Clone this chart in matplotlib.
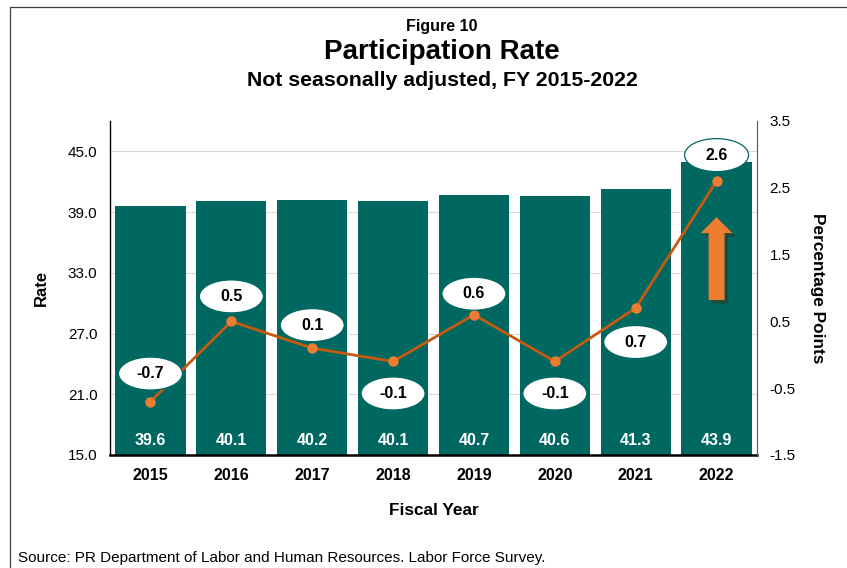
import matplotlib
matplotlib.use("Agg")
import matplotlib.pyplot as plt
import matplotlib.patheffects as pe
import matplotlib.transforms as mtransforms
from matplotlib.patches import Rectangle, Ellipse

plt.rcParams['font.family'] = ['Liberation Sans', 'DejaVu Sans']

years = ['2015', '2016', '2017', '2018', '2019', '2020', '2021', '2022']
rate = [39.6, 40.1, 40.2, 40.1, 40.7, 40.6, 41.3, 43.9]
change = [-0.7, 0.5, 0.1, -0.1, 0.6, -0.1, 0.7, 2.6]
change_labels = ['-0.7', '0.5', '0.1', '-0.1', '0.6', '-0.1', '0.7', '2.6']
rate_ticks = [15.0, 21.0, 27.0, 33.0, 39.0, 45.0]
pp_ticks = [-1.5, -0.5, 0.5, 1.5, 2.5, 3.5]

teal = '#006861'
orange_line = '#C55A11'
orange = '#ED7D31'

fig = plt.figure(figsize=(8.47, 5.68), dpi=100)
# outer frame of the original figure
fig.patches.append(Rectangle((10 / 847, -0.05), 1.0, 1 - 7 / 568 + 0.05,
                             transform=fig.transFigure, fill=False,
                             edgecolor='#404040', lw=0.9))

ax = fig.add_axes([110 / 847, 1 - 455 / 568, 647 / 847, 334 / 568])
x = list(range(len(years)))
ax.bar(x, rate, width=0.87, color=teal, zorder=2)
for i, v in enumerate(rate):
    ax.text(i, 16.4, f'{v:.1f}', color='white', fontweight='bold',
            fontsize=11.5, ha='center', va='center', zorder=3)

ax.set_xlim(-0.5, 7.5)
ax.set_ylim(15, 48)
ax.set_yticks(rate_ticks)
ax.set_yticklabels([f'{t:.1f}' for t in rate_ticks], fontsize=11)
ax.set_xticks(x)
ax.set_xticklabels(years, fontsize=11.5, fontweight='bold')
ax.tick_params(length=0, pad=9)
ax.tick_params(axis='y', pad=9)
ax.grid(axis='y', color='#d9d9d9', lw=0.8, zorder=0)
ax.spines['top'].set_visible(False)
ax.spines['right'].set_visible(False)
ax.spines['left'].set_linewidth(1.0)
ax.spines['bottom'].set_linewidth(1.8)
ax.set_xlabel('Fiscal Year', fontsize=12.4, fontweight='bold', labelpad=15)
ax.set_ylabel('Rate', fontsize=12, fontweight='bold', labelpad=14)

ax2 = ax.twinx()
ax2.set_ylim(-1.5, 3.5)
ax2.set_yticks(pp_ticks)
ax2.set_yticklabels([f'{t:.1f}' for t in pp_ticks], fontsize=11)
ax2.tick_params(length=0, pad=9)
for s in ['top', 'left', 'bottom']:
    ax2.spines[s].set_visible(False)
ax2.spines['right'].set_color('#595959')
ax2.set_ylabel('Percentage Points', fontsize=12.4, fontweight='bold',
               rotation=270, labelpad=21)

ax2.plot(x, change, color=orange_line, lw=2.0, zorder=4)
ax2.plot(x, change, 'o', color=orange, ms=6.5, zorder=5)

# ellipse labels, offset in pixels from each point (+ above, - below)
offsets = [28, 25, 23, -32, 21, -32, -34, 26]
for i, (v, lab) in enumerate(zip(change, change_labels)):
    trans = fig.dpi_scale_trans + mtransforms.ScaledTranslation(i, v, ax2.transData)
    dy = offsets[i] / 100
    ax2.add_patch(Ellipse((0, dy), 0.64, 0.33, transform=trans, fc='white',
                          ec=teal, lw=0.9, zorder=6))
    ax2.text(0, dy, lab, transform=trans, ha='center', va='center',
             fontsize=11.5, fontweight='bold', zorder=7)

# up arrow on 2022
ax2.annotate('', xy=(7, 2.06), xytext=(7, 0.82),
             arrowprops=dict(width=11.5, headwidth=23, headlength=11.5,
                             facecolor=orange, edgecolor='none',
                             path_effects=[pe.SimplePatchShadow(offset=(2.5, -2.5), alpha=0.45),
                                           pe.Normal()]),
             zorder=5)

fig.text(0.522, 1 - 27 / 568, 'Figure 10', ha='center', va='center',
         fontsize=11.5, fontweight='bold')
fig.text(0.522, 1 - 52 / 568, 'Participation Rate', ha='center', va='center',
         fontsize=20, fontweight='bold')
fig.text(0.522, 1 - 80 / 568, 'Not seasonally adjusted, FY 2015-2022', ha='center',
         va='center', fontsize=15.3, fontweight='bold')
fig.text(18 / 847, 1 - 558 / 568, 'Source: PR Department of Labor and Human Resources. Labor Force Survey.',
         ha='left', va='center', fontsize=11)

fig.savefig('out.png', dpi=100)
